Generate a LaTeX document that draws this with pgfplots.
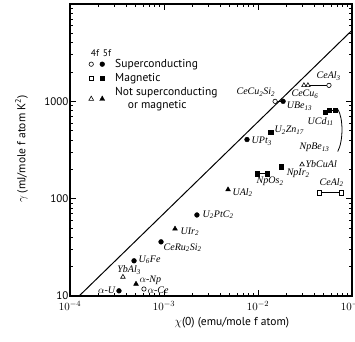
\documentclass[border=0pt]{standalone}
\usepackage{fontspec}
\setmainfont{PT Sans}
\newfontfamily\cmp{Liberation Serif}
\usepackage{pgfplots}
\pgfplotsset{compat=1.18}
\begin{document}
\begin{tikzpicture}
\path[use as bounding box] (-70pt,-45pt) rectangle (285pt,296pt);
\clip (-70pt,-45pt) rectangle (285pt,296pt);
\begin{axis}[
 at={(0pt,0pt)}, anchor=south west,
 scale only axis, width=282pt, height=292pt,
 xmode=log, ymode=log,
 xmin=1e-4, xmax=1e-1, ymin=10, ymax=1e4,
 xtick={1e-4,1e-3,1e-2,1e-1},
 xticklabels={$10^{-4}$,$10^{-3}$,$10^{-2}$,$10^{-1}$},
 ytick={10,100,1000,10000}, yticklabels={10,100,1000,},
 tick align=inside, major tick length=6pt, minor tick length=3.5pt,
 axis line style={line width=1.1pt},
 every tick/.style={black, line width=0.8pt},
 ticklabel style={font=\fontsize{11}{12}\selectfont},
 xticklabel style={yshift=-1.5pt},
 yticklabel style={xshift=2pt},
 clip=false,
 legend style={draw=none, fill=none, at={(0.064,0.818)}, anchor=north west,
   font=\fontsize{11.5}{12.5}\selectfont, row sep=0.5pt, inner sep=0pt},
 legend cell align=left,
]
% legend
\addlegendimage{legend image code/.code={
  \path[draw=none] (-3pt,0pt) rectangle (22pt,0.1pt);
  \draw[line width=0.6pt, fill=white] (0pt,0pt) circle (2.2pt);
  \fill (11pt,0pt) circle (2.4pt);}}
\addlegendentry{Superconducting}
\addlegendimage{legend image code/.code={
  \path[draw=none] (-3pt,0pt) rectangle (22pt,0.1pt);
  \draw[line width=0.6pt, fill=white] (-2.1pt,-2.1pt) rectangle (2.1pt,2.1pt);
  \fill (8.8pt,-2.2pt) rectangle (13.2pt,2.2pt);}}
\addlegendentry{Magnetic}
\addlegendimage{legend image code/.code={
  \path[draw=none] (-3pt,0pt) rectangle (22pt,0.1pt);
  \draw[line width=0.6pt, fill=white] (0pt,2.6pt) -- (-2.4pt,-1.6pt) -- (2.4pt,-1.6pt) -- cycle;
  \fill (11pt,2.8pt) -- (8.5pt,-1.7pt) -- (13.5pt,-1.7pt) -- cycle;}}
\addlegendentry[align=left]{Not superconducting\\\hspace*{1.1em}or magnetic}

% Wilson-ratio line
\addplot[black, line width=1pt, forget plot] coordinates {(1.25e-4,10) (0.1,5370)};

% connecting segments
\addplot[black, line width=0.9pt, forget plot] coordinates {(9.75e-3,181) (1.25e-2,181)};
\addplot[black, line width=0.9pt, forget plot] coordinates {(4.46e-2,115) (7.64e-2,115)};
\addplot[black, line width=0.9pt, forget plot] coordinates {(1.52e-2,1000) (1.85e-2,1000)};
\addplot[black, line width=0.9pt, forget plot] coordinates {(3.4e-2,1460) (5.69e-2,1460)};
\addplot[black, line width=0.9pt, forget plot] coordinates {(5.69e-2,807) (6.59e-2,807)};

% filled circles
\addplot[only marks, mark=*, mark size=2.4pt, black, forget plot] coordinates {
 (3.32e-4,11.3) (4.8e-4,23.0) (9.3e-4,36) (2.24e-3,68) (7.64e-3,405) (1.85e-2,1000)};
% open circles
\addplot[only marks, mark=*, mark size=2.2pt, draw=black, fill=white, line width=0.6pt, forget plot] coordinates {
 (6.12e-4,11.8) (1.52e-2,1000) (5.69e-2,1460)};
% filled triangles
\addplot[only marks, mark=triangle*, mark size=2.8pt, black, forget plot] coordinates {
 (5.04e-4,13.3) (1.31e-3,49) (4.8e-3,124)};
% open triangles
\addplot[only marks, mark=triangle*, mark size=2.6pt, draw=black, fill=white, line width=0.6pt, forget plot] coordinates {
 (3.66e-4,15.7) (2.94e-2,224) (3.08e-2,1460) (3.4e-2,1460)};
% filled squares
\addplot[only marks, mark=square*, mark size=2.2pt, black, forget plot] coordinates {
 (9.75e-3,181) (1.25e-2,181) (1.76e-2,214) (1.37e-2,479) (5.16e-2,771) (5.69e-2,807) (6.59e-2,807)};
% open squares
\addplot[only marks, mark=square*, mark size=2.1pt, draw=black, fill=white, line width=0.6pt, forget plot] coordinates {
 (4.46e-2,115) (7.64e-2,115)};

% bracket
\draw[line width=0.8pt] (axis cs:0.0705,830) .. controls (axis cs:0.081,680) and (axis cs:0.081,390) .. (axis cs:0.0705,305);

% compound labels
\begin{scope}[every node/.style={font=\cmp\itshape\fontsize{10}{11}\selectfont, inner sep=0.5pt}]
\node[anchor=east] at (axis cs:3.08e-4,11.5) {$\alpha$-U};
\node at (axis cs:4.25e-4,18.5) {YbAl\textsubscript{3}};
\node[anchor=west] at (axis cs:5.42e-4,14.6) {$\alpha$-Np};
\node[anchor=west] at (axis cs:6.59e-4,11.5) {$\alpha$-Ce};
\node[anchor=west] at (axis cs:5.29e-4,23.5) {U\textsubscript{6}Fe};
\node[anchor=west] at (axis cs:9.75e-4,31.3) {CeRu\textsubscript{2}Si\textsubscript{2}};
\node[anchor=west] at (axis cs:1.48e-3,45.7) {UIr\textsubscript{2}};
\node[anchor=west] at (axis cs:2.54e-3,68.4) {U\textsubscript{2}PtC\textsubscript{2}};
\node[anchor=west] at (axis cs:5.28e-3,115) {UAl\textsubscript{2}};
\node[anchor=west] at (axis cs:9.53e-3,150) {NpOs\textsubscript{2}};
\node[anchor=west] at (axis cs:1.99e-2,181) {NpIr\textsubscript{2}};
\node[anchor=west] at (axis cs:3.16e-2,224) {YbCuAl};
\node[anchor=west] at (axis cs:4.46e-2,146) {CeAl\textsubscript{2}};
\node[anchor=west] at (axis cs:8.43e-3,387) {UPt\textsubscript{3}};
\node[anchor=west] at (axis cs:1.48e-2,502) {U\textsubscript{2}Zn\textsubscript{17}};
\node[anchor=west] at (axis cs:2.73e-2,336) {NpBe\textsubscript{13}};
\node[anchor=west] at (axis cs:3.32e-2,622) {UCd\textsubscript{11}};
\node[anchor=west] at (axis cs:1.99e-2,887) {UBe\textsubscript{13}};
\node[anchor=east] at (axis cs:1.55e-2,1240) {CeCu\textsubscript{2}Si\textsubscript{2}};
\node[anchor=west] at (axis cs:2.24e-2,1181) {CeCu\textsubscript{6}};
\node[anchor=west] at (axis cs:4.14e-2,1811) {CeAl\textsubscript{3}};
\end{scope}

% legend header
\node[font=\fontsize{9.5}{10}\selectfont] at (axis description cs:0.089,0.832) {4f};
\node[font=\fontsize{9.5}{10}\selectfont] at (axis description cs:0.131,0.832) {5f};

% axis titles
\node[font=\fontsize{11.5}{12}\selectfont] at (axis description cs:0.574,-0.092) {$\chi$(0) (emu/mole f atom)};
\node[font=\fontsize{11.5}{12}\selectfont, rotate=90] at (axis description cs:-0.172,0.503) {$\gamma$ (mJ/mole f atom K\textsuperscript{2})};
\end{axis}
\end{tikzpicture}
\end{document}
